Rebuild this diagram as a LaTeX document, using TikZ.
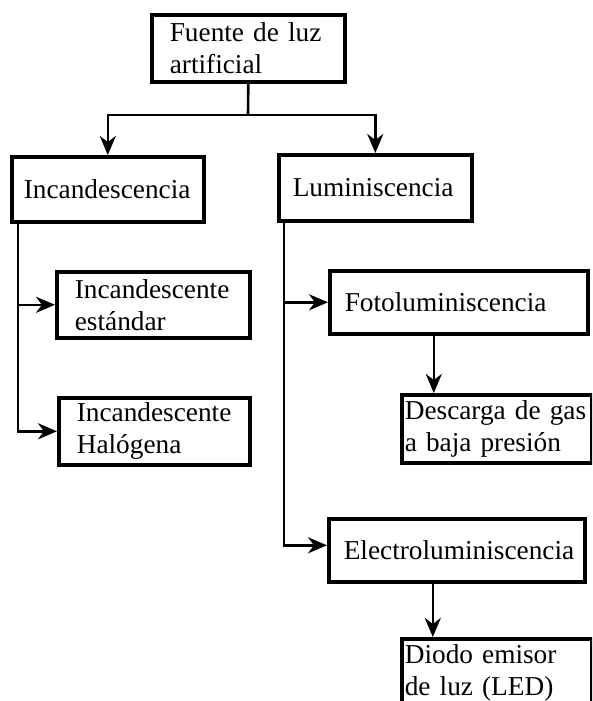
\documentclass[tikz,border=0pt]{standalone}
\usepackage{fontspec}
\setmainfont{Liberation Serif}
\usepackage{tikz}
\usetikzlibrary{arrows.meta}

\begin{document}
\begin{tikzpicture}[x=1pt, y=-1pt,
			box/.style={rectangle, draw=black, line width=3.6pt, anchor=north west, align=left, inner ysep=0pt, font=\fontsize{27.3}{32}\selectfont},
			arrow/.style={-{Stealth[length=19pt, width=16pt, inset=6pt]}, line width=2.6pt, black}
		]

		\clip (0,0) rectangle (592,701);

		% Root
		\node[box, minimum height=67pt, inner xsep=18pt, text width=157pt] (fuente) at (150,13) {Fuente de luz\\artificial};

		% Level 1
		\node[box, minimum height=65pt, inner xsep=12pt, text width=168pt] (incand) at (10,155) {Incandescencia};
		\node[box, minimum height=66pt, inner xsep=14pt, text width=165pt] (lumin) at (277,153) {Luminiscencia};

		% Incandescencia branch
		\node[box, minimum height=66pt, inner xsep=18pt, text width=157pt] (estandar) at (55,270) {Incandescente\\est\'andar};
		\node[box, minimum height=67pt, inner xsep=18pt, text width=155pt] (halogena) at (57,396) {Incandescente\\Hal\'ogena};

		% Luminiscencia branch
		\node[box, minimum height=63pt, inner xsep=15pt, text width=228pt] (foto) at (328,269) {Fotoluminiscencia};
		\node[box, minimum height=68pt, inner xsep=3pt, text width=184pt] (descarga) at (400,393) {Descarga de gas\\a baja presi\'on};
		\node[box, minimum height=63pt, inner xsep=15pt, text width=226pt] (electro) at (327,517) {Electroluminiscencia};
		\node[box, minimum height=68pt, inner xsep=3pt, text width=184pt] (diodo) at (400,637) {Diodo emisor\\de luz (LED)};

		% Arrows
		\coordinate (split) at (248,115);
		\draw[line width=2.6pt] (fuente.south) -- (split);
		\draw[arrow] (split) -| (incand.north);
		\draw[arrow] (split) -| (lumin.north);
		\draw[arrow] ([xshift=8pt]incand.south west) |- (estandar.west);
		\draw[arrow] ([xshift=8pt]incand.south west) |- (halogena.west);
		\draw[arrow] ([xshift=7pt]lumin.south west) |- (foto.west);
		\draw[arrow] ([xshift=7pt]lumin.south west) |- ([yshift=5pt]electro.west);
		\draw[arrow] ([xshift=-25pt]foto.south) -- ([xshift=-25pt]foto.south |- descarga.north);
		\draw[arrow] ([xshift=-24pt]electro.south) -- ([xshift=-24pt]electro.south |- diodo.north);

	\end{tikzpicture}
\end{document}
